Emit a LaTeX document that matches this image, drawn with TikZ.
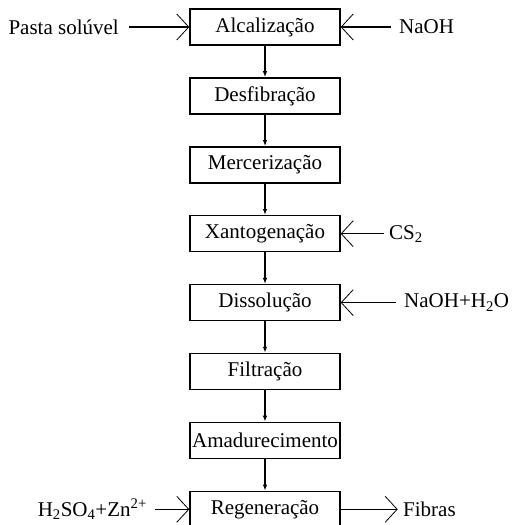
\documentclass[tikz,border=0pt]{standalone}
\usepackage{fontspec}
\setmainfont{Liberation Serif}
\usetikzlibrary{arrows.meta,positioning}
\tikzset{
  >=Latex,
  viscose/.style={font=\fontsize{21}{25}\selectfont, line width=1pt, x=1pt, y=-1pt},
  etapa/.style={
    rectangle, draw, line width=1.4pt, minimum width=150pt, minimum height=36pt,
    inner sep=0pt, align=center
  },
  reagente/.style={inner sep=0pt},
  seta/.style={-{Latex[length=6pt,width=4.5pt]}, line width=1.2pt},
  setalat/.style={-{Straight Barb[length=12pt,width=26pt,line width=0.8pt]}, line width=1.2pt}
}

\begin{document}
\begin{tikzpicture}[viscose, node distance=31.5pt and 60pt]
\useasboundingbox (0,0) rectangle (531,525);

% 1 : Alcalizacao
\node[etapa] (alc) at (265,27) {Alcalização};
\node[reagente, left=70pt of alc] (pasta) {Pasta solúvel};
\draw[setalat, shorten <=10pt] (pasta) -- (alc);
\node[reagente, right=58pt of alc] (naoh) {NaOH};
\draw[setalat, shorten <=8pt] (naoh) -- (alc);

% 2 : Desfibracao
\node[etapa, below=31.5pt of alc] (desf) {Desfibração};
\draw[seta] (alc) -- (desf);

% 3 : Mercerizacao
\node[etapa, below=31.5pt of desf] (merc) {Mercerização};
\draw[seta] (desf) -- (merc);

% 4 : Xantogenacao
\node[etapa, below=31.5pt of merc] (xant) {Xantogenação};
\draw[seta] (merc) -- (xant);
\node[reagente, right=48pt of xant] (cs) {CS\textsubscript{2}};
\draw[setalat, shorten <=5pt] (cs.west |- xant) -- (xant);

% 5 : Dissolucao
\node[etapa, below=31.5pt of xant] (diss) {Dissolução};
\draw[seta] (xant) -- (diss);
\node[reagente, right=63pt of diss] (agua) {NaOH+H\textsubscript{2}O};
\draw[setalat, shorten <=8pt] (agua.west |- diss) -- (diss);

% 6 : Filtracao
\node[etapa, below=31.5pt of diss] (filt) {Filtração};
\draw[seta] (diss) -- (filt);

% 7 : Amadurecimento
\node[etapa, below=31.5pt of filt] (amad) {Amadurecimento};
\draw[seta] (filt) -- (amad);

% 8 : Regeneracao
\node[etapa, below=31.5pt of amad] (reg) {Regeneração};
\draw[seta] (amad) -- (reg);
\node[reagente, left=42pt of reg] (acido) {H\textsubscript{2}SO\textsubscript{4}+Zn\textsuperscript{2+}};
\draw[setalat, shorten <=8pt] (acido.east |- reg) -- (reg);
\node[reagente, right=62pt of reg] (fib) {Fibras};
\draw[setalat, shorten >=5pt] (reg) -- (fib);

\end{tikzpicture}
\end{document}
